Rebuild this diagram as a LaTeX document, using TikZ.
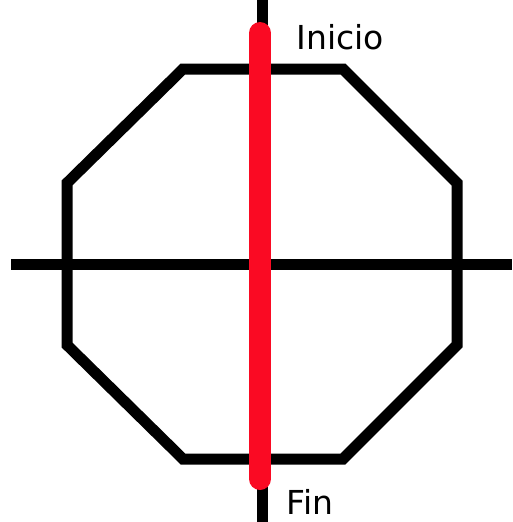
\documentclass[tikz,border=0pt]{standalone}
\usepackage{fontspec}
\setmainfont{DejaVu Sans}
\begin{document}
\begin{tikzpicture}[x=1pt,y=-1pt,
  blk/.style={line width=11pt,black},
  redl/.style={line width=22pt,red!90!magenta!95!black,line cap=round},
  lbl/.style={font=\fontsize{33}{38}\selectfont,inner sep=0pt}]
\useasboundingbox[fill=white] (0,0) rectangle (512,522);
\draw[blk,line join=miter] (183,69) -- (343,69) -- (457,183) -- (457,345) -- (343,459) -- (183,459) -- (67,345) -- (67,183) -- cycle;
\coordinate (hl) at (11,264);
\coordinate (hr) at (512,264);
\coordinate (vt) at (262,0);
\coordinate (vb) at (262,522);
\draw[blk] (hl) -- (hr);
\draw[blk] (vt) -- (vb);
\coordinate (rt) at (260,33);
\coordinate (rb) at (260,479);
\draw[redl,color={rgb,255:red,250;green,10;blue,35}] (rt) -- (rb);
\node[lbl] (inicio) at (340,37) {Inicio};
\node[lbl] (fin) at (310,502) {Fin};
\end{tikzpicture}
\end{document}
